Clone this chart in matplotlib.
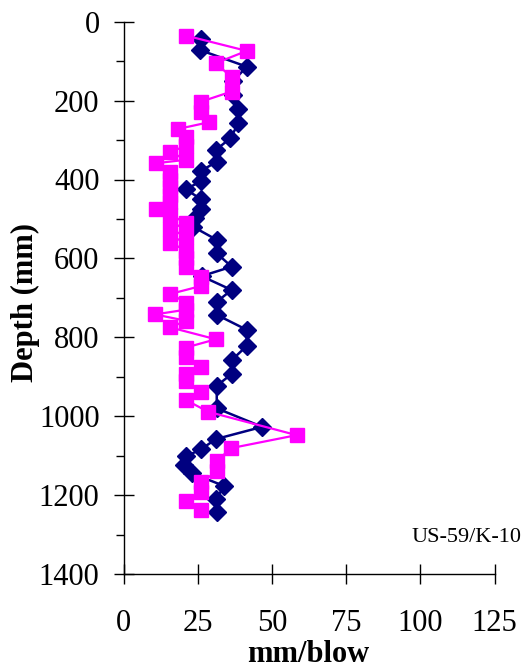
import matplotlib
matplotlib.use("Agg")
import matplotlib.pyplot as plt
from matplotlib.ticker import MultipleLocator

plt.rcParams['font.family'] = ['Liberation Serif', 'DejaVu Serif']

# DCP penetration rate profiles (depth in mm, rate in mm/blow)
depth_a = [44, 72, 114, 150, 185, 222, 258, 296, 325, 355, 378, 404, 425, 450,
           476, 498, 520, 553, 587, 621, 645, 680, 710, 743, 781, 822, 858, 893,
           923, 980, 1027, 1058, 1084, 1102, 1124, 1145, 1177, 1210, 1242]
rate_a = [26.1, 25.8, 41.5, 37.0, 37.0, 38.7, 38.7, 35.9, 31.1, 31.4, 26.1, 26.1,
          21.0, 26.1, 26.1, 24.1, 23.5, 31.4, 31.4, 36.4, 26.3, 36.4, 31.4, 31.4,
          41.5, 41.5, 36.4, 36.4, 31.4, 31.4, 46.7, 31.1, 26.1, 21.0, 20.5, 23.2,
          33.9, 31.2, 31.5]

depth_b = [35, 74, 105, 141, 177, 203, 230, 255, 272, 293, 315, 330, 350, 359,
           380, 400, 420, 440, 458, 475, 490, 510, 525, 545, 560, 580, 600, 622,
           648, 670, 690, 712, 730, 742, 758, 775, 805, 826, 850, 875, 892, 910,
           938, 959, 989, 1048, 1081, 1114, 1140, 1168, 1193, 1215, 1238]
rate_b = [20.9, 41.5, 31.1, 36.4, 36.4, 26.0, 26.0, 28.7, 18.3, 21.0, 21.0, 15.8,
          21.0, 10.8, 15.8, 15.8, 15.8, 15.8, 15.8, 10.8, 15.8, 21.0, 15.8, 21.0,
          15.8, 21.0, 21.0, 21.0, 26.1, 26.1, 15.8, 21.0, 21.0, 10.6, 21.0, 15.8,
          31.1, 21.0, 21.0, 26.2, 21.0, 21.0, 26.2, 21.0, 28.6, 58.3, 36.2, 31.4,
          31.4, 26.1, 26.1, 21.0, 26.1]

x_ticks = [0, 25, 50, 75, 100, 125]
y_ticks = [0, 200, 400, 600, 800, 1000, 1200, 1400]

W, H = 529, 670
ax_left, ax_right, ax_top, ax_bottom = 123.5, 494.7, 21.7, 574.0
fig = plt.figure(figsize=(W / 100, H / 100), dpi=100)
ax = fig.add_axes([ax_left / W, (H - ax_bottom) / H,
                   (ax_right - ax_left) / W, (ax_bottom - ax_top) / H])

ax.plot(rate_a, depth_a, color='#000080', marker='D', markersize=9.5,
        linewidth=1.8, clip_on=False, zorder=3)
ax.plot(rate_b, depth_b, color='#FF00FF', marker='s', markersize=10.5,
        linewidth=1.6, clip_on=False, zorder=4)

ax.set_xlim(0, 125)
ax.set_ylim(1400, 0)
ax.set_xticks(x_ticks)
ax.set_yticks(y_ticks)
ax.yaxis.set_minor_locator(MultipleLocator(100))

for s in ['top', 'right']:
    ax.spines[s].set_visible(False)
for s in ['left', 'bottom']:
    ax.spines[s].set_linewidth(1.0)
    ax.spines[s].set_color('black')

ax.tick_params(axis='both', which='major', direction='inout', length=14.5,
               width=1.0, labelsize=22)
ax.tick_params(axis='x', which='major', pad=18)
ax.tick_params(axis='y', which='major', pad=10)
ax.tick_params(axis='y', which='minor', direction='out', length=6, width=1.0)

ax.set_xlabel('mm/blow', fontsize=22, fontweight='bold')
ax.set_ylabel('Depth (mm)', fontsize=22, fontweight='bold')
ax_w = ax_right - ax_left
ax_h = ax_bottom - ax_top
ax.xaxis.set_label_coords((308 - ax_left) / ax_w, (ax_bottom - 654) / ax_h)
ax.xaxis.label.set_verticalalignment('center')
ax.yaxis.set_label_coords((25 - ax_left) / ax_w, (ax_bottom - 302) / ax_h)
ax.yaxis.label.set_verticalalignment('center')

fig.text(521 / W, 1 - 538 / H, 'US-59/K-10', fontsize=16, ha='right', va='center')

fig.savefig('out.png', dpi=100)
